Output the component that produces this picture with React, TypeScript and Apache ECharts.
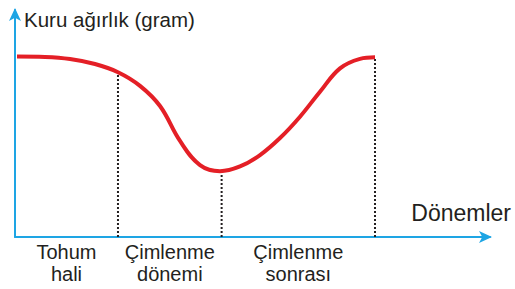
import React, { useEffect, useRef } from "react";
import * as echarts from "echarts";

const curveX = [0.42, 6.32, 11.58, 16.84, 21.68, 26.32, 30.53, 34.74, 38.95, 43.16, 47.37, 51.58, 55.79, 60.0, 64.21, 68.42, 72.63, 75.79];
const curveY = [79.5, 79.3, 78.4, 76.2, 72.6, 66.6, 57.7, 42.3, 31.7, 29.0, 31.1, 36.1, 43.6, 53.0, 64.0, 74.3, 78.5, 79.2];
const boundaryX = [21.68, 43.5, 75.79];
const boundaryY = [72.6, 29.0, 79.2];
const periodStart = [0, 21.68, 43.5];
const periodEnd = [21.68, 43.5, 75.79];
const periodLabels = ["Tohum\nhali", "Çimlenme\ndönemi", "Çimlenme\nsonrası"];
const yAxisTitle = "Kuru ağırlık (gram)";
const xAxisTitle = "Dönemler";

const FONT = "'Liberation Sans', Arial, Helvetica, sans-serif";

export default function App() {
  const ref = useRef<HTMLDivElement>(null);
  useEffect(() => {
    if (!ref.current) return;
    const chart = echarts.init(ref.current, undefined, { renderer: "svg" });
    const mids = periodStart.map((s, i) => (s + periodEnd[i]) / 2);
    const series: any[] = [
      {
        type: "line",
        data: curveX.map((x, i) => [x, curveY[i]]),
        smooth: 0.4,
        symbol: "none",
        lineStyle: { color: "#e41f26", width: 4 },
        z: 5,
      },
    ];
    boundaryX.forEach((bx, i) => {
      series.push({
        type: "line",
        data: [
          [bx, 0],
          [bx, boundaryY[i]],
        ],
        symbol: "none",
        lineStyle: { color: "#231f20", width: 2, type: [2, 2] },
        z: 3,
      });
    });
    chart.setOption({
      animation: false,
      grid: { left: 15, top: 10, width: 475, height: 227, containLabel: false },
      xAxis: {
        type: "value",
        min: 0,
        max: 100,
        splitLine: { show: false },
        axisTick: { show: false },
        axisLine: {
          show: true,
          symbol: ["none", "arrow"],
          symbolSize: [9, 13],
          symbolOffset: [0, 2],
          lineStyle: { color: "#1ea5e4", width: 2 },
        },
        axisLabel: {
          customValues: mids,
          formatter: (v: number) => {
            const idx = mids.findIndex((m) => Math.abs(m - v) < 0.01);
            return idx >= 0 ? periodLabels[idx] : "";
          },
          color: "#231f20",
          fontFamily: FONT,
          fontSize: 20,
          lineHeight: 22,
          margin: 4,
          align: "center",
        },
      },
      yAxis: {
        type: "value",
        min: 0,
        max: 100,
        splitLine: { show: false },
        axisTick: { show: false },
        axisLabel: { show: false },
        axisLine: {
          show: true,
          symbol: ["none", "arrow"],
          symbolSize: [9, 13],
          symbolOffset: [0, 2],
          lineStyle: { color: "#1ea5e4", width: 2 },
        },
      },
      graphic: [
        {
          type: "text",
          left: 24,
          top: 8.5,
          style: { text: yAxisTitle, fontSize: 20.5, fontFamily: FONT, fill: "#231f20" },
        },
        {
          type: "text",
          right: 4,
          top: 201,
          style: { text: xAxisTitle, fontSize: 23, fontFamily: FONT, fill: "#231f20" },
        },
      ],
      series,
    });
    return () => chart.dispose();
  }, []);
  return <div ref={ref} style={{ width: 515, height: 289, position: "absolute", left: 0, top: 0, background: "#fff" }} />;
}
